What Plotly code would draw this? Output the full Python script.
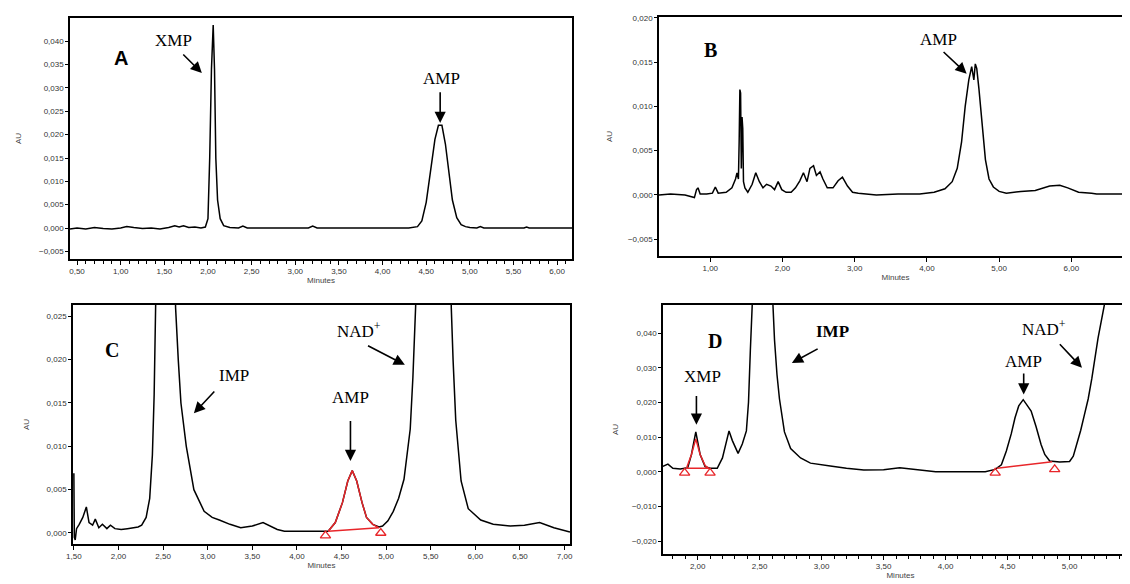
import plotly.graph_objects as go

# ---- panel A : standard mix ----
a_min = [0.42, 0.50, 0.60, 0.70, 0.80, 0.90, 1.00, 1.07, 1.15, 1.25, 1.35, 1.45, 1.55, 1.62, 1.67, 1.72,
         1.78, 1.85, 1.92, 1.97, 2.00, 2.02, 2.04, 2.06, 2.075, 2.09, 2.11, 2.14, 2.18, 2.25, 2.35, 2.40,
         2.45, 2.70, 3.00, 3.15, 3.20, 3.25, 3.60, 4.00, 4.30, 4.40, 4.45, 4.50, 4.55, 4.60, 4.64, 4.68,
         4.72, 4.76, 4.80, 4.85, 4.90, 4.95, 5.00, 5.08, 5.12, 5.16, 5.40, 5.62, 5.65, 5.68, 6.17]
a_au = [-0.0002, 0.0000, -0.0002, 0.0001, -0.0001, -0.0002, 0.0000, 0.0003, 0.0001, -0.0001, 0.0000, -0.0002,
        0.0001, 0.0005, 0.0002, 0.0005, 0.0001, 0.0002, 0.0000, 0.0002, 0.0020, 0.0150, 0.0340, 0.0435,
        0.0340, 0.0150, 0.0060, 0.0020, 0.0005, 0.0001, 0.0000, 0.0004, 0.0000, 0.0000, 0.0000, 0.0000,
        0.0004, 0.0000, 0.0000, 0.0000, 0.0000, 0.0003, 0.0015, 0.0055, 0.0120, 0.0190, 0.0220, 0.0220,
        0.0180, 0.0120, 0.0060, 0.0022, 0.0007, 0.0003, 0.0001, 0.0000, 0.0003, 0.0000, 0.0000, 0.0000,
        0.0002, 0.0000, 0.0000]

# ---- panel B : sample ----
b_min = [0.29, 0.45, 0.65, 0.78, 0.81, 0.83, 0.86, 0.95, 1.03, 1.07, 1.11, 1.22, 1.30, 1.35, 1.37, 1.39,
         1.40, 1.41, 1.42, 1.43, 1.44, 1.45, 1.46, 1.48, 1.52, 1.58, 1.63, 1.68, 1.73, 1.78, 1.84, 1.89,
         1.94, 1.99, 2.05, 2.12, 2.18, 2.24, 2.29, 2.34, 2.38, 2.43, 2.47, 2.52, 2.56, 2.62, 2.70, 2.77,
         2.83, 2.90, 2.97, 3.05, 3.30, 3.60, 3.90, 4.10, 4.25, 4.35, 4.42, 4.48, 4.53, 4.58, 4.62, 4.65,
         4.67, 4.69, 4.72, 4.76, 4.81, 4.86, 4.92, 5.00, 5.10, 5.30, 5.50, 5.70, 5.84, 5.95, 6.10, 6.28,
         6.35, 6.84]
b_au = [0.0000, 0.0001, 0.0000, -0.0003, 0.0006, 0.0008, 0.0001, 0.0001, 0.0002, 0.0009, 0.0002, 0.0003,
        0.0008, 0.0018, 0.0025, 0.0018, 0.0060, 0.0119, 0.0115, 0.0030, 0.0088, 0.0075, 0.0015, 0.0008,
        0.0003, 0.0012, 0.0025, 0.0015, 0.0008, 0.0012, 0.0010, 0.0006, 0.0015, 0.0006, 0.0003, 0.0003,
        0.0008, 0.0016, 0.0025, 0.0015, 0.0030, 0.0033, 0.0022, 0.0026, 0.0018, 0.0008, 0.0008, 0.0016,
        0.0020, 0.0010, 0.0003, 0.0002, 0.0000, 0.0001, 0.0001, 0.0003, 0.0007, 0.0015, 0.0030, 0.0060,
        0.0100, 0.0130, 0.0145, 0.0130, 0.0148, 0.0143, 0.0120, 0.0080, 0.0040, 0.0018, 0.0009, 0.0004,
        0.0002, 0.0004, 0.0005, 0.0010, 0.0011, 0.0008, 0.0003, 0.0002, 0.0001, 0.0001]

# ---- panel C : reaction mixture ----
c_min = [1.50, 1.505, 1.515, 1.53, 1.56, 1.60, 1.64, 1.67, 1.71, 1.74, 1.78, 1.82, 1.87, 1.91, 1.96, 2.03,
         2.10, 2.17, 2.22, 2.26, 2.31, 2.35, 2.38, 2.40, 2.42, 2.46, 2.52, 2.58, 2.62, 2.64, 2.67, 2.70,
         2.76, 2.845, 2.96, 3.05, 3.13, 3.25, 3.37, 3.50, 3.62, 3.70, 3.78, 3.86, 4.00, 4.35, 4.43, 4.51,
         4.57, 4.62, 4.67, 4.73, 4.78, 4.85, 4.92, 4.96, 5.02, 5.08, 5.14, 5.20, 5.27, 5.30, 5.33, 5.45,
         5.55, 5.65, 5.73, 5.75, 5.78, 5.84, 5.92, 6.06, 6.20, 6.39, 6.55, 6.72, 6.88, 7.06]
c_au = [0.0069, -0.0005, -0.0008, 0.0005, 0.0010, 0.0018, 0.0030, 0.0012, 0.0009, 0.0016, 0.0006, 0.0010,
        0.0005, 0.0009, 0.0005, 0.0004, 0.0005, 0.0006, 0.0007, 0.0009, 0.0018, 0.0040, 0.0090, 0.0160,
        0.0280, 0.0600, 0.0900, 0.0600, 0.0350, 0.0260, 0.0200, 0.0150, 0.0100, 0.0050, 0.0025, 0.0018,
        0.0015, 0.0010, 0.0006, 0.0008, 0.0012, 0.0008, 0.0004, 0.0002, 0.0002, 0.0002, 0.0012, 0.0035,
        0.0060, 0.0072, 0.0060, 0.0035, 0.0018, 0.0010, 0.0007, 0.0008, 0.0014, 0.0025, 0.0040, 0.0062,
        0.0120, 0.0180, 0.0260, 0.0800, 0.1000, 0.0800, 0.0260, 0.0200, 0.0130, 0.0060, 0.0028, 0.0015,
        0.0010, 0.0008, 0.0009, 0.0012, 0.0006, 0.0001]
c_amp_min = [4.35, 4.43, 4.51, 4.57, 4.62, 4.67, 4.73, 4.78, 4.85, 4.92, 4.35]
c_amp_au = [0.0002, 0.0012, 0.0035, 0.0060, 0.0072, 0.0060, 0.0035, 0.0018, 0.0010, 0.0006, 0.0002]
c_mark_min = [4.32, 4.94]
c_mark_au = [-0.0003, 0.0000]

# ---- panel D : reaction mixture, zoomed ----
d_min = [1.72, 1.76, 1.80, 1.86, 1.92, 1.95, 1.985, 2.02, 2.06, 2.10, 2.158, 2.20, 2.253, 2.28, 2.326, 2.36,
         2.393, 2.41, 2.425, 2.435, 2.50, 2.58, 2.61, 2.62, 2.64, 2.66, 2.70, 2.75, 2.83, 2.91, 3.07, 3.20,
         3.34, 3.50, 3.63, 3.80, 3.92, 4.10, 4.32, 4.40, 4.45, 4.49, 4.53, 4.56, 4.59, 4.626, 4.66, 4.69,
         4.73, 4.77, 4.80, 4.84, 4.92, 5.00, 5.03, 5.06, 5.09, 5.12, 5.15, 5.18, 5.23, 5.28, 5.35, 5.45,
         5.55]
d_au = [0.0016, 0.0022, 0.0010, 0.0008, 0.0012, 0.0050, 0.0115, 0.0050, 0.0015, 0.0010, 0.0010, 0.0040,
        0.0118, 0.0090, 0.0053, 0.0080, 0.0118, 0.0200, 0.0350, 0.0600, 0.1000, 0.0700, 0.0480, 0.0380,
        0.0280, 0.0210, 0.0115, 0.0067, 0.0040, 0.0025, 0.0017, 0.0010, 0.0005, 0.0006, 0.0012, 0.0004,
        0.0000, 0.0000, 0.0000, 0.0007, 0.0020, 0.0060, 0.0110, 0.0156, 0.0190, 0.0208, 0.0190, 0.0175,
        0.0130, 0.0079, 0.0050, 0.0031, 0.0028, 0.0030, 0.0045, 0.0079, 0.0120, 0.0165, 0.0210, 0.0270,
        0.0386, 0.0480, 0.0700, 0.0900, 0.1000]
d_xmp_min = [1.91, 1.95, 1.985, 2.02, 2.06, 2.09, 1.91]
d_xmp_au = [0.0010, 0.0050, 0.0095, 0.0050, 0.0018, 0.0010, 0.0010]
d_amp_min = [4.415, 4.86]
d_amp_au = [0.0010, 0.0029]
d_mark_min = [1.895, 2.10, 4.40, 4.88]
d_mark_au = [-0.0003, -0.0003, -0.0003, 0.0007]

# panel labels: (text, x, y, bold, sans)
a_labels = [("A", 1.00, 0.0364, True, True), ("XMP", 1.60, 0.0401, False, False), ("AMP", 4.68, 0.0321, False, False)]
a_arrows = [(1.93, 0.0332, 1.70, 0.0375), (4.66, 0.0225, 4.66, 0.0294)]
b_labels = [("B", 1.00, 0.0164, True, False), ("AMP", 4.16, 0.0176, False, False)]
b_arrows = [(4.55, 0.0137, 4.21, 0.0163)]
c_labels = [("C", 1.93, 0.0211, True, False), ("IMP", 3.29, 0.0182, False, False),
            ("NAD<sup>+</sup>", 4.70, 0.0234, False, False), ("AMP", 4.60, 0.0156, False, False)]
c_arrows = [(2.845, 0.0138, 3.09, 0.0165), (5.21, 0.0194, 4.78, 0.0217), (4.60, 0.0083, 4.60, 0.0131)]
d_labels = [("D", 2.14, 0.0377, True, False), ("XMP", 2.04, 0.0276, False, False), ("IMP", 3.09, 0.0405, True, False),
            ("NAD<sup>+</sup>", 4.79, 0.0415, False, False), ("AMP", 4.63, 0.0319, False, False)]
d_arrows = [(1.99, 0.0136, 1.99, 0.0223), (2.76, 0.0314, 2.98, 0.0357), (5.10, 0.0300, 4.91, 0.0372),
            (4.63, 0.0223, 4.63, 0.0288)]

panels = [
    dict(ax="x", ay="y", xd=[0.0549, 0.4991], yd=[0.5702, 0.9829], xr=[0.42, 6.17], yr=[-0.00664, 0.045],
         x0=0.5, dx=0.5, yt=[-0.005 + 0.005 * i for i in range(10)], minor=0.1,
         mirror_y=True, labels=a_labels, arrows=a_arrows, sy=16),
    dict(ax="x2", ay="y2", xd=[0.5761, 0.9947], yd=[0.5753, 0.9846], xr=[0.29, 6.84], yr=[-0.0069, 0.0201],
         x0=1.0, dx=1.0, yt=[-0.005, 0.0, 0.005, 0.010, 0.015, 0.020], minor=None,
         mirror_y=True, labels=b_labels, arrows=b_arrows, sy=14),
    dict(ax="x3", ay="y3", xd=[0.0575, 0.4973], yd=[0.0822, 0.4914], xr=[1.49, 7.06], yr=[-0.00127, 0.0263],
         x0=1.5, dx=0.5, yt=[0.0, 0.005, 0.010, 0.015, 0.020, 0.025], minor=None,
         mirror_y=True, labels=c_labels, arrows=c_arrows, sy=16),
    dict(ax="x4", ay="y4", xd=[0.5796, 1.0], yd=[0.0651, 0.4914], xr=[1.72, 5.552], yr=[-0.0237, 0.0481],
         x0=2.0, dx=0.5, yt=[-0.02, -0.01, 0.0, 0.01, 0.02, 0.03, 0.04], minor=0.1,
         mirror_y=False, labels=d_labels, arrows=d_arrows, sy=12),
]

black = dict(color="black", width=1.5)
red = dict(color="#e8262a", width=1.5)
tri = dict(symbol="triangle-up-open", size=9, color="#e8262a", line=dict(width=1.3, color="#e8262a"))

fig = go.Figure()
traces = [
    ("x", "y", a_min, a_au, black),
    ("x2", "y2", b_min, b_au, black),
    ("x3", "y3", c_min, c_au, black),
    ("x3", "y3", c_amp_min, c_amp_au, red),
    ("x4", "y4", d_min, d_au, black),
    ("x4", "y4", d_xmp_min, d_xmp_au, red),
    ("x4", "y4", d_amp_min, d_amp_au, red),
]
for xa, ya, xs, ys, ln in traces:
    fig.add_trace(go.Scatter(x=xs, y=ys, xaxis=xa, yaxis=ya, mode="lines", line=ln, showlegend=False))
fig.add_trace(go.Scatter(x=c_mark_min, y=c_mark_au, xaxis="x3", yaxis="y3", mode="markers", marker=tri,
                         showlegend=False))
fig.add_trace(go.Scatter(x=d_mark_min, y=d_mark_au, xaxis="x4", yaxis="y4", mode="markers", marker=tri,
                         showlegend=False))

tickfont = dict(family="Liberation Sans, Arial", size=8, color="#333")
titlefont = dict(family="Liberation Sans, Arial", size=8, color="#444")
serif = "Liberation Serif, Times New Roman"
layout = {}
annotations = []
for i, p in enumerate(panels):
    n = "" if i == 0 else str(i + 1)
    xaxis = dict(domain=p["xd"], range=p["xr"], anchor=p["ay"], tickmode="linear", tick0=p["x0"], dtick=p["dx"],
                 tickformat=".2f", showline=True, linecolor="black", linewidth=1.5, mirror=True,
                 ticks="outside", ticklen=4, tickwidth=1.2, tickcolor="black", showgrid=False, zeroline=False,
                 tickfont=tickfont, ticklabeloverflow="allow",
                 title=dict(text="Minutes", font=titlefont, standoff=2))
    if p["minor"]:
        xaxis["minor"] = dict(tickmode="linear", tick0=0, dtick=p["minor"], ticks="outside", ticklen=3,
                              tickwidth=1, tickcolor="black", showgrid=False)
    yaxis = dict(domain=p["yd"], range=p["yr"], anchor=p["ax"], tickmode="array", tickvals=p["yt"],
                 tickformat=".3f", showline=True, linecolor="black", linewidth=1.5, mirror=p["mirror_y"],
                 ticks="outside", ticklen=3, tickwidth=1.2, tickcolor="black", showgrid=False, zeroline=False,
                 tickfont=tickfont,
                 title=dict(text="AU", font=titlefont, standoff=p["sy"]))
    layout["xaxis" + n] = xaxis
    layout["yaxis" + n] = yaxis
    for text, x, y, bold, sans in p["labels"]:
        t = "<b>" + text + "</b>" if bold else text
        annotations.append(dict(x=x, y=y, xref=p["ax"], yref=p["ay"], text=t, showarrow=False,
                                font=dict(family="Liberation Sans, Arial" if sans else serif,
                                          size=20 if len(text) == 1 else 17, color="black")))
    for hx, hy, tx, ty in p["arrows"]:
        annotations.append(dict(x=hx, y=hy, ax=tx, ay=ty, xref=p["ax"], yref=p["ay"], axref=p["ax"],
                                ayref=p["ay"], text="", showarrow=True, arrowhead=2, arrowsize=1.4,
                                arrowwidth=1.6, arrowcolor="black"))

fig.update_layout(**layout)
fig.update_layout(width=1130, height=584, margin=dict(l=0, r=0, t=0, b=0), template="none",
                  paper_bgcolor="white", plot_bgcolor="white", separators=",.", annotations=annotations,
                  showlegend=False)
fig.write_html("out.html")
